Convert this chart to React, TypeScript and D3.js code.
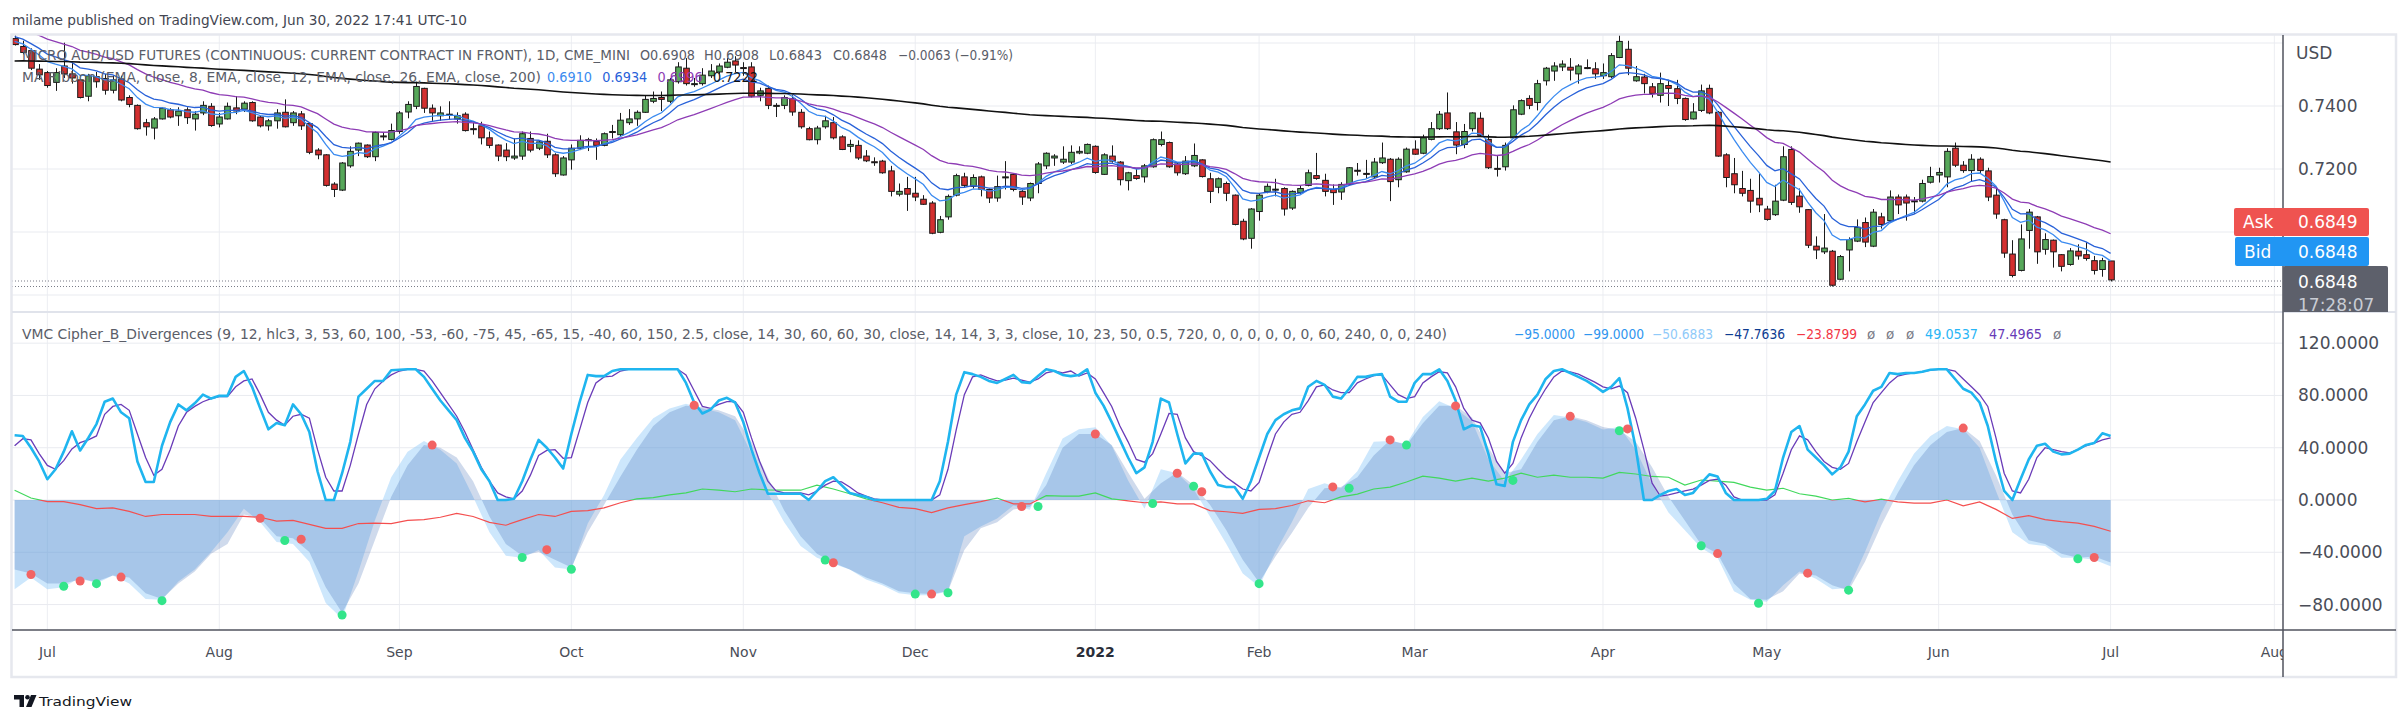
import * as d3 from 'd3';

// Daily bars, Jun 25 2021 .. Jul 1 2022: [open, high, low, close]
const bars: [number, number, number, number][] = [
    [0.7614, 0.7626, 0.7592, 0.7595], [0.7589, 0.7607, 0.7564, 0.7570], [0.7576, 0.7583, 0.7514, 0.7520], [0.7517, 0.7533, 0.7483, 0.7499],
    [0.7506, 0.7511, 0.7458, 0.7465], [0.7475, 0.7520, 0.7448, 0.7506], [0.7527, 0.7601, 0.7489, 0.7502], [0.7502, 0.7539, 0.7471, 0.7489],
    [0.7483, 0.7486, 0.7424, 0.7427], [0.7431, 0.7502, 0.7415, 0.7496], [0.7493, 0.7508, 0.7458, 0.7477], [0.7487, 0.7502, 0.7436, 0.7450],
    [0.7450, 0.7496, 0.7440, 0.7483], [0.7486, 0.7496, 0.7415, 0.7419], [0.7427, 0.7434, 0.7396, 0.7405], [0.7402, 0.7405, 0.7325, 0.7328],
    [0.7347, 0.7359, 0.7306, 0.7334], [0.7330, 0.7365, 0.7294, 0.7359], [0.7359, 0.7396, 0.7357, 0.7393], [0.7388, 0.7393, 0.7361, 0.7365],
    [0.7369, 0.7396, 0.7337, 0.7384], [0.7388, 0.7396, 0.7343, 0.7363], [0.7359, 0.7384, 0.7322, 0.7374], [0.7378, 0.7415, 0.7371, 0.7402],
    [0.7399, 0.7409, 0.7334, 0.7338], [0.7343, 0.7378, 0.7332, 0.7365], [0.7359, 0.7411, 0.7357, 0.7399], [0.7394, 0.7431, 0.7374, 0.7384],
    [0.7390, 0.7415, 0.7381, 0.7409], [0.7411, 0.7415, 0.7350, 0.7353], [0.7365, 0.7369, 0.7332, 0.7337], [0.7337, 0.7359, 0.7322, 0.7353],
    [0.7353, 0.7390, 0.7328, 0.7378], [0.7380, 0.7421, 0.7332, 0.7334], [0.7347, 0.7384, 0.7337, 0.7378], [0.7375, 0.7384, 0.7324, 0.7337],
    [0.7344, 0.7347, 0.7247, 0.7253], [0.7260, 0.7266, 0.7231, 0.7245], [0.7245, 0.7247, 0.7144, 0.7148], [0.7152, 0.7158, 0.7111, 0.7135],
    [0.7133, 0.7222, 0.7130, 0.7219], [0.7210, 0.7272, 0.7204, 0.7256], [0.7260, 0.7284, 0.7241, 0.7282], [0.7276, 0.7278, 0.7235, 0.7239],
    [0.7239, 0.7319, 0.7225, 0.7316], [0.7305, 0.7316, 0.7291, 0.7303], [0.7294, 0.7344, 0.7291, 0.7322], [0.7319, 0.7384, 0.7312, 0.7378],
    [0.7381, 0.7415, 0.7361, 0.7405], [0.7399, 0.7477, 0.7390, 0.7462], [0.7456, 0.7458, 0.7378, 0.7393], [0.7393, 0.7405, 0.7353, 0.7378],
    [0.7369, 0.7399, 0.7353, 0.7378], [0.7374, 0.7415, 0.7357, 0.7371], [0.7359, 0.7380, 0.7344, 0.7369], [0.7374, 0.7380, 0.7319, 0.7322],
    [0.7328, 0.7347, 0.7309, 0.7326], [0.7337, 0.7350, 0.7278, 0.7299], [0.7299, 0.7319, 0.7266, 0.7275], [0.7276, 0.7278, 0.7225, 0.7241],
    [0.7260, 0.7282, 0.7225, 0.7239], [0.7235, 0.7297, 0.7229, 0.7241], [0.7241, 0.7319, 0.7229, 0.7312], [0.7297, 0.7319, 0.7253, 0.7260],
    [0.7266, 0.7291, 0.7260, 0.7286], [0.7288, 0.7312, 0.7235, 0.7245], [0.7245, 0.7250, 0.7175, 0.7185], [0.7181, 0.7241, 0.7179, 0.7235],
    [0.7229, 0.7278, 0.7198, 0.7266], [0.7266, 0.7307, 0.7260, 0.7291], [0.7291, 0.7299, 0.7257, 0.7293], [0.7287, 0.7297, 0.7229, 0.7275],
    [0.7275, 0.7316, 0.7272, 0.7312], [0.7317, 0.7340, 0.7297, 0.7319], [0.7309, 0.7378, 0.7303, 0.7355], [0.7347, 0.7390, 0.7340, 0.7359],
    [0.7359, 0.7386, 0.7337, 0.7380], [0.7380, 0.7434, 0.7378, 0.7421], [0.7415, 0.7446, 0.7409, 0.7424], [0.7427, 0.7446, 0.7384, 0.7421],
    [0.7415, 0.7489, 0.7409, 0.7483], [0.7477, 0.7539, 0.7471, 0.7524], [0.7520, 0.7552, 0.7465, 0.7471], [0.7471, 0.7489, 0.7461, 0.7471],
    [0.7471, 0.7520, 0.7465, 0.7498], [0.7496, 0.7533, 0.7489, 0.7511], [0.7508, 0.7535, 0.7502, 0.7527], [0.7523, 0.7552, 0.7520, 0.7539],
    [0.7543, 0.7558, 0.7508, 0.7530], [0.7522, 0.7539, 0.7496, 0.7520], [0.7524, 0.7539, 0.7427, 0.7431], [0.7434, 0.7458, 0.7415, 0.7448],
    [0.7456, 0.7465, 0.7390, 0.7402], [0.7402, 0.7409, 0.7365, 0.7402], [0.7402, 0.7434, 0.7390, 0.7427], [0.7424, 0.7434, 0.7369, 0.7381],
    [0.7380, 0.7390, 0.7328, 0.7334], [0.7328, 0.7334, 0.7291, 0.7293], [0.7293, 0.7337, 0.7278, 0.7330], [0.7334, 0.7369, 0.7328, 0.7353],
    [0.7347, 0.7365, 0.7294, 0.7299], [0.7302, 0.7307, 0.7260, 0.7262], [0.7272, 0.7293, 0.7253, 0.7278], [0.7275, 0.7291, 0.7229, 0.7235],
    [0.7241, 0.7260, 0.7222, 0.7226], [0.7223, 0.7237, 0.7210, 0.7222], [0.7225, 0.7229, 0.7185, 0.7188], [0.7194, 0.7210, 0.7113, 0.7129],
    [0.7120, 0.7154, 0.7113, 0.7129], [0.7138, 0.7175, 0.7067, 0.7120], [0.7123, 0.7175, 0.7098, 0.7111], [0.7104, 0.7117, 0.7086, 0.7088],
    [0.7092, 0.7098, 0.6993, 0.6996], [0.6999, 0.7051, 0.6996, 0.7039], [0.7048, 0.7119, 0.7039, 0.7113], [0.7117, 0.7185, 0.7113, 0.7179],
    [0.7175, 0.7188, 0.7142, 0.7148], [0.7145, 0.7183, 0.7138, 0.7173], [0.7175, 0.7179, 0.7113, 0.7135], [0.7135, 0.7138, 0.7092, 0.7108],
    [0.7108, 0.7179, 0.7096, 0.7144], [0.7175, 0.7225, 0.7135, 0.7175], [0.7183, 0.7185, 0.7129, 0.7135], [0.7129, 0.7135, 0.7086, 0.7111],
    [0.7108, 0.7157, 0.7098, 0.7154], [0.7154, 0.7222, 0.7123, 0.7216], [0.7210, 0.7253, 0.7200, 0.7250], [0.7235, 0.7247, 0.7210, 0.7241],
    [0.7222, 0.7272, 0.7216, 0.7231], [0.7222, 0.7275, 0.7216, 0.7253], [0.7251, 0.7272, 0.7247, 0.7256], [0.7250, 0.7281, 0.7247, 0.7278],
    [0.7272, 0.7275, 0.7185, 0.7189], [0.7183, 0.7250, 0.7181, 0.7245], [0.7241, 0.7275, 0.7220, 0.7225], [0.7222, 0.7225, 0.7148, 0.7166],
    [0.7163, 0.7191, 0.7132, 0.7188], [0.7179, 0.7200, 0.7166, 0.7170], [0.7175, 0.7216, 0.7157, 0.7210], [0.7207, 0.7297, 0.7204, 0.7293],
    [0.7278, 0.7319, 0.7272, 0.7293], [0.7284, 0.7287, 0.7204, 0.7207], [0.7216, 0.7219, 0.7179, 0.7188], [0.7185, 0.7241, 0.7181, 0.7225],
    [0.7210, 0.7281, 0.7206, 0.7243], [0.7229, 0.7231, 0.7173, 0.7176], [0.7169, 0.7188, 0.7092, 0.7129], [0.7142, 0.7173, 0.7123, 0.7169],
    [0.7154, 0.7160, 0.7098, 0.7123], [0.7117, 0.7119, 0.7021, 0.7024], [0.7034, 0.7042, 0.6974, 0.6978], [0.6980, 0.7076, 0.6947, 0.7073],
    [0.7065, 0.7123, 0.7036, 0.7117], [0.7128, 0.7154, 0.7123, 0.7145], [0.7135, 0.7169, 0.7113, 0.7136], [0.7138, 0.7142, 0.7052, 0.7073],
    [0.7076, 0.7132, 0.7070, 0.7129], [0.7125, 0.7148, 0.7119, 0.7138], [0.7148, 0.7198, 0.7145, 0.7188], [0.7179, 0.7251, 0.7166, 0.7170],
    [0.7164, 0.7185, 0.7113, 0.7129], [0.7135, 0.7151, 0.7086, 0.7125], [0.7127, 0.7158, 0.7102, 0.7151], [0.7151, 0.7206, 0.7148, 0.7204],
    [0.7196, 0.7219, 0.7179, 0.7195], [0.7186, 0.7229, 0.7169, 0.7185], [0.7175, 0.7235, 0.7170, 0.7222], [0.7220, 0.7284, 0.7216, 0.7235],
    [0.7231, 0.7235, 0.7098, 0.7160], [0.7166, 0.7237, 0.7142, 0.7231], [0.7191, 0.7268, 0.7188, 0.7263], [0.7263, 0.7291, 0.7245, 0.7247],
    [0.7250, 0.7309, 0.7247, 0.7299], [0.7294, 0.7349, 0.7291, 0.7328], [0.7328, 0.7384, 0.7324, 0.7374], [0.7378, 0.7443, 0.7324, 0.7328],
    [0.7318, 0.7349, 0.7247, 0.7276], [0.7278, 0.7343, 0.7266, 0.7319], [0.7328, 0.7380, 0.7319, 0.7378], [0.7361, 0.7380, 0.7303, 0.7307],
    [0.7294, 0.7309, 0.7200, 0.7204], [0.7202, 0.7241, 0.7176, 0.7201], [0.7207, 0.7284, 0.7195, 0.7275], [0.7299, 0.7402, 0.7297, 0.7388],
    [0.7374, 0.7421, 0.7371, 0.7417], [0.7424, 0.7434, 0.7390, 0.7402], [0.7411, 0.7483, 0.7386, 0.7471], [0.7480, 0.7524, 0.7465, 0.7520],
    [0.7511, 0.7539, 0.7480, 0.7527], [0.7524, 0.7545, 0.7511, 0.7533], [0.7523, 0.7552, 0.7481, 0.7514], [0.7502, 0.7533, 0.7471, 0.7527],
    [0.7522, 0.7548, 0.7517, 0.7520], [0.7518, 0.7539, 0.7486, 0.7502], [0.7496, 0.7535, 0.7486, 0.7506], [0.7493, 0.7568, 0.7489, 0.7560],
    [0.7554, 0.7626, 0.7552, 0.7605], [0.7580, 0.7607, 0.7498, 0.7520], [0.7480, 0.7527, 0.7477, 0.7493], [0.7492, 0.7502, 0.7440, 0.7471],
    [0.7461, 0.7473, 0.7427, 0.7440], [0.7434, 0.7506, 0.7411, 0.7471], [0.7465, 0.7483, 0.7400, 0.7456], [0.7455, 0.7483, 0.7406, 0.7424],
    [0.7424, 0.7427, 0.7353, 0.7357], [0.7359, 0.7409, 0.7357, 0.7381], [0.7386, 0.7468, 0.7381, 0.7448], [0.7456, 0.7468, 0.7374, 0.7378],
    [0.7380, 0.7384, 0.7239, 0.7241], [0.7245, 0.7250, 0.7142, 0.7173], [0.7185, 0.7235, 0.7123, 0.7150], [0.7138, 0.7194, 0.7113, 0.7123],
    [0.7132, 0.7169, 0.7061, 0.7098], [0.7107, 0.7185, 0.7063, 0.7086], [0.7073, 0.7083, 0.7036, 0.7040], [0.7055, 0.7150, 0.7051, 0.7098],
    [0.7101, 0.7272, 0.7098, 0.7239], [0.7262, 0.7272, 0.7086, 0.7094], [0.7114, 0.7138, 0.7061, 0.7080], [0.7071, 0.7073, 0.6949, 0.6958],
    [0.6955, 0.6986, 0.6914, 0.6943], [0.6937, 0.7057, 0.6930, 0.6949], [0.6939, 0.6943, 0.6827, 0.6831], [0.6850, 0.6927, 0.6847, 0.6922],
    [0.6943, 0.6983, 0.6875, 0.6976], [0.6971, 0.7040, 0.6968, 0.7015], [0.7030, 0.7046, 0.6952, 0.6968], [0.6955, 0.7073, 0.6952, 0.7063],
    [0.7048, 0.7061, 0.7011, 0.7024], [0.7036, 0.7132, 0.7034, 0.7111], [0.7111, 0.7119, 0.7057, 0.7086], [0.7111, 0.7119, 0.7036, 0.7092],
    [0.7099, 0.7111, 0.7058, 0.7098], [0.7098, 0.7166, 0.7094, 0.7154], [0.7158, 0.7207, 0.7154, 0.7176], [0.7181, 0.7204, 0.7157, 0.7189],
    [0.7175, 0.7266, 0.7142, 0.7256], [0.7266, 0.7284, 0.7206, 0.7212], [0.7212, 0.7225, 0.7188, 0.7195], [0.7195, 0.7247, 0.7160, 0.7231],
    [0.7231, 0.7237, 0.7185, 0.7195], [0.7194, 0.7204, 0.7098, 0.7111], [0.7117, 0.7142, 0.7042, 0.7057], [0.7039, 0.7042, 0.6918, 0.6933],
    [0.6930, 0.6974, 0.6856, 0.6862], [0.6878, 0.7024, 0.6875, 0.6978], [0.7005, 0.7073, 0.6947, 0.7063], [0.7048, 0.7051, 0.6899, 0.6937],
    [0.6945, 0.6996, 0.6928, 0.6976], [0.6974, 0.6976, 0.6887, 0.6937], [0.6928, 0.6930, 0.6875, 0.6891], [0.6897, 0.6949, 0.6893, 0.6940],
    [0.6939, 0.6961, 0.6912, 0.6924], [0.6928, 0.6968, 0.6909, 0.6916], [0.6909, 0.6924, 0.6865, 0.6878], [0.6881, 0.6918, 0.6858, 0.6909],
    [0.6908, 0.6908, 0.6843, 0.6848],
];

// MA ribbon: periods, value on the first bar, colours, legend values
const emaPeriods = [8, 12, 26, 200];
const emaStart = [0.7605, 0.7620, 0.7649, 0.7543];
const emaColors = ['#3b8bf0', '#2962d9', '#8e3cb5', '#111111'];
const emaLegend = ['0.6910', '0.6934', '0.6996', '0.7222'];

// Stoch RSI K / D, one value per bar
const stochK = [
    49.6, 49.0, 40.0, 29.5, 15.9, 23.5, 37.0, 52.6, 37.9, 47.5, 58.1, 75.2, 77.6, 67.1, 62.6, 29.5, 13.8, 13.8, 41.5, 59.6,
    73.1, 68.6, 74.0, 80.6, 77.6, 79.7, 79.7, 94.2, 98.7, 86.6, 70.1, 54.1, 58.9, 57.2, 73.1, 65.6, 52.0, 22.0, 0, 0,
    20.5, 44.5, 79.1, 85.1, 91.1, 91.1, 99.3, 99.6, 100, 100, 94.2, 85.1, 76.1, 68.6, 61.1, 47.5, 37.0, 23.5, 14.4, 0,
    0, 0.9, 14.4, 31.0, 46.0,
    40.0, 32.5, 24.1, 50.5, 74.6, 95.7, 94.8, 94.8, 98.7, 100, 100, 100, 100, 100, 100, 100, 100,
    89.6, 74.6, 66.2, 69.2, 76.1, 78.2, 74.6, 59.6, 38.5, 20.5, 4.8, 4.8, 4.8, 4.8, 4.8, 0, 6.9, 14.4, 17.4, 11.4, 5.4, 3.9, 2.4,
    0, 0, 0, 0, 0, 0, 0, 0, 14.4, 44.5, 80.6, 97.8, 96.3, 94.2, 91.1, 89.6, 92.6, 95.7, 90.2, 89.6, 94.8, 100, 98.7, 95.7,
    94.8, 95.7, 100, 82.1, 72.2, 59.6, 46.0, 32.5, 20.5, 25.0, 44.5, 77.6, 74.6, 50.5, 28.0, 35.5, 35.5, 22.0, 11.4, 9.9,
    9.9, 0.9, 14.4, 32.5, 50.5, 61.1, 65.6, 68.6, 70.1, 86.6, 91.1, 88.1, 79.1, 77.6, 85.1, 94.2, 94.2, 95.7, 96.3, 79.1,
    75.2, 75.2, 89.6, 96.3, 96.3, 100, 91.1, 76.1, 54.1, 57.2, 56.0, 35.5, 12.0, 10.8, 44.5, 61.1, 73.1, 80.6, 92.6, 98.7,
    100, 97.2, 94.2, 91.1, 87.2,
    82.7, 86.6, 93.2, 70.1, 40.0, 0, 0, 3.9, 6.9, 8.4, 3.9, 5.4, 12.9, 19.6, 18.0, 5.4, 0, 0, 0, 0,
    0.9, 6.9, 32.5, 52.0, 56.6, 38.5, 32.5, 26.5, 19.6, 25.0, 37.0, 64.1, 73.1, 83.6, 86.6, 97.2, 96.3, 97.2, 97.2, 98.1,
    99.6, 100, 100, 92.6, 85.1, 82.1, 74.6, 56.6, 29.5, 6.9, 0, 15.9, 31.0, 41.5, 43.0, 37.0, 34.9, 35.5, 38.5, 42.1,
    43.6, 51.1, 49.05,
];
const stochD = [
    41.5, 46.9, 46.0, 35.5, 26.5, 23.5, 30.1, 39.1, 43.9, 46.0, 49.0, 65.6, 71.6, 73.1, 68.6, 50.5, 32.5, 19.0, 23.5, 38.5,
    56.6, 67.1, 71.6, 75.2, 77.6, 79.1, 79.1, 86.6, 91.1, 92.6, 80.6, 67.1, 61.1, 57.2, 64.1, 65.6, 62.6, 38.5, 17.4, 6.9,
    6.9, 26.5, 50.5, 73.1, 85.1, 91.1, 95.7, 98.7, 100, 100, 98.7, 91.1, 82.1, 73.1, 64.1, 52.0, 38.5, 25.0, 14.4, 5.4,
    2.4, 0.9, 6.9, 19.0, 34.0,
    37.9, 38.5, 31.9, 32.5, 53.5, 74.6, 89.6, 94.2, 94.8, 98.7, 100, 100, 100, 100, 100, 100, 100,
    95.7, 83.6, 71.6, 70.1, 73.1, 75.2, 75.2, 67.1, 47.5, 29.5, 14.4, 6.9, 5.4, 5.4, 5.4, 3.9, 6.9, 11.4, 14.4, 13.8, 9.9, 5.4, 3.0, 0.9,
    0, 0, 0, 0, 0, 0, 0, 3.9, 23.5, 53.5, 80.6, 94.2, 95.7, 93.2, 91.1, 91.7, 93.2, 91.7, 90.2, 92.6, 97.2, 98.7, 97.2,
    98.7, 94.8, 97.2, 92.6, 82.1, 71.6, 56.6, 44.5, 31.0, 28.9, 35.5, 50.5, 66.2, 65.6, 47.5, 37.0, 34.0, 30.1, 23.5, 17.4,
    12.9, 8.4, 6.9, 13.5, 32.5, 50.5, 59.6, 65.6, 67.1, 76.1, 86.6, 88.1, 84.2, 82.1, 82.1, 89.6, 92.6, 95.1, 95.7, 88.1,
    80.6, 77.6, 79.1, 89.6, 94.2, 98.1, 97.2, 86.6, 70.1, 61.1, 59.0, 47.5, 29.5, 20.5, 28.0, 47.5, 62.6, 74.6, 85.1, 94.2,
    98.7, 98.1, 96.3, 93.2, 90.2,
    86.6, 85.1, 87.2, 82.1, 62.6, 38.5, 12.9, 3.0, 3.9, 5.4, 6.9, 8.4, 11.4, 15.0, 15.9, 11.4, 2.4, 0, 0, 0,
    0, 3.9, 20.5, 38.5, 49.0, 46.0, 37.0, 29.5, 25.0, 23.5, 28.0, 44.5, 59.6, 74.6, 82.1, 89.6, 94.8, 96.3, 97.2, 98.1,
    99.3, 100, 100, 98.7, 92.6, 86.6, 80.6, 71.6, 47.5, 20.5, 6.9, 5.4, 15.9, 32.5, 40.0, 38.5, 37.0, 36.1, 38.5, 41.5,
    43.6, 46.0, 47.5,
];

// WaveTrend 1 / 2 and RSI+MFI, sampled every second bar
const sampleStep = 2;
const wt1 = [
    -68.3, -59.3, -68.3, -66.8, -59.3, -63.8, -57.8, -63.8, -75.8, -76.4, -62.3, -53.2, -39.7, -24.7, -6.6, -17.1, -32.2,
    -33.7, -47.2, -78.8, -90.8, -54.7, -15.6, 17.4, 37.0, 45.1, 38.5, 28.0, 2.4, -24.7, -42.7, -44.2, -38.2,
    -51.7, -53.2, -18.0, 3.9, 31.0, 47.5, 62.6, 70.1, 73.7, 70.1, 67.1, 61.1, 35.5, 5.4, -17.1, -35.2,
    -44.2, -48.7, -53.2, -60.8, -65.3, -71.3, -72.8, -72.8, -69.8, -27.7, -20.2, -14.1, -4.2, -7.5, 20.5, 47.0,
    54.1, 55.6, 41.5, 15.0, -6.6, 23.5, 20.5, 8.4, -12.6, -33.7, -56.2, -66.2, -39.7, -17.1, 8.4, 12.9, 9.0,
    22.0, 44.5, 45.1, 43.0, 63.5, 75.5, 70.1, 60.2, 31.0, 14.4, 31.0, 50.5, 65.0, 63.2, 59.6, 54.0,
    55.9, 38.5, 12.0, -9.6, -23.2, -36.7, -44.2, -69.8, -76.4, -77.9, -65.3, -54.7, -60.2, -68.3, -67.4, -39.7,
    -9.6, 14.4, 35.5, 49.0, 56.6, 54.1, 40.0, 6.9, -24.7, -33.7, -35.2, -44.2, -44.2, -45.7, -50.69,
];
const wt2 = [
    -53.2, -56.2, -63.8, -63.8, -60.8, -62.3, -57.8, -59.3, -71.3, -75.8, -63.8, -54.7, -41.2, -33.7, -11.1, -14.1, -27.7,
    -29.2, -39.7, -66.8, -86.3, -63.8, -30.7, 2.4, 26.5, 42.1, 40.0, 32.5, 14.4, -12.6, -33.7, -42.7, -39.7,
    -45.7, -51.7, -24.7, -3.6, 18.0, 38.5, 56.6, 67.1, 72.2, 71.0, 68.6, 64.1, 44.5, 17.4, -8.1, -27.7,
    -41.2, -48.1, -53.2, -59.3, -63.8, -69.8, -71.3, -71.9, -69.8, -38.2, -21.7, -17.1, -7.2, -5.4, 11.4, 40.0,
    50.5, 50.5, 42.1, 21.1, 0.9, 12.9, 21.1, 11.4, -3.6, -23.2, -45.7, -63.2, -43.3, -25.3, -6.0, 9.0, 9.9,
    17.4, 34.0, 46.0, 42.1, 58.7, 72.2, 72.2, 63.2, 40.0, 20.5, 23.5, 44.5, 61.1, 64.1, 61.1, 55.8,
    53.5, 44.5, 25.0, 2.4, -15.6, -34.3, -41.2, -63.8, -75.8, -76.4, -69.8, -56.2, -57.8, -65.3, -69.2, -47.2,
    -19.3, 5.4, 26.5, 42.1, 52.0, 55.0, 45.1, 19.0, -11.1, -30.7, -33.7, -41.2, -44.2, -43.3, -47.76,
];
const rsiMfi = [
    7.5, 1.5, -1.2, -1.2, -3.6, -6.6, -6.0, -8.7, -12.6, -11.1, -11.1, -11.1, -12.6, -12.6, -12.6, -13.2, -16.2,
    -15.6, -18.6, -21.7, -21.7, -18.0, -17.7, -18.0, -15.6, -15.0, -13.2, -10.2, -12.6, -17.1, -19.3, -15.0, -11.1,
    -12.6, -8.7, -8.1, -6.0, -2.1, 0.9, 1.8, 3.9, 5.4, 8.4, 7.5, 6.3, 8.4, 7.8, 7.5, 7.5,
    11.4, 8.4, 4.8, 0.9, -2.1, -5.7, -6.6, -9.6, -6.0, -3.6, -1.2, 1.5, -3.0, -3.0, 3.3, 3.0,
    3.0, 5.4, 0.9, -0.6, -2.1, -1.5, -3.0, -3.0, -8.1, -9.0, -10.2, -7.2, -6.6, -4.2, -0.6, -2.1, 2.4,
    4.5, 8.4, 9.9, 13.8, 18.3, 16.8, 14.4, 16.8, 14.4, 16.8, 20.5, 17.4, 19.0, 17.4, 17.4, 16.8,
    21.1, 19.9, 18.0, 17.4, 11.4, 15.3, 14.4, 13.5, 9.9, 7.5, 9.0, 4.8, 3.0, 0, 1.2, -1.5,
    0.6, -1.5, -2.4, -2.4, 0, -4.5, -1.5, -7.2, -14.1, -12.0, -15.0, -16.5, -17.7, -20.2, -23.88,
];

// indicator legend values as printed on the chart
const indLegend = ['\u221295.0000', '\u221299.0000', '\u221250.6883', '\u221247.7636', '\u221223.8799', 'ø', 'ø', 'ø', '49.0537', '47.4965', 'ø'];
const indLegendX = [1514, 1583, 1652, 1724, 1796, 1867, 1886, 1906, 1925, 1989, 2053];
const indLegendColors = ['#2f96ef', '#2f96ef', '#90caf9', '#0d3c91', '#f23645', '#787b86', '#787b86', '#787b86', '#29b6f6', '#673ab7', '#787b86'];

// WaveTrend cross dots
const dotBars = [2, 6, 8, 10, 13, 18, 30, 33, 35, 40, 51, 62, 65, 68, 83, 99, 100, 110, 112, 114, 123, 125, 132, 139, 142,
    144, 145, 152, 161, 163, 168, 170, 176, 183, 190, 196, 197, 206, 208, 213, 219, 224, 238, 252, 254];
const dotValues = [-57, -66, -62, -64, -59, -77, -14, -31, -30, -88, 42, -44, -38, -53, 72.5, -46, -48, -72, -72, -71, -5, -5,
    50.5, -2.7, 20.5, 10.5, 6.3, -64, 10, 9, 46, 42, 72, 15, 64, 53, 54.4, -35, -41, -79, -56, -69, 55, -45, -44];
const dotKinds = 'rgrgrgrgrgrgrgrgrgrgrgrgrgrgrgrgrgrgrgrgrgrgr'.split('');

// time axis: first bar of each month
const tickBars = [4, 25, 47, 68, 89, 110, 132, 152, 171, 194, 214, 235, 256, 276];
const tickLabels = ['Jul', 'Aug', 'Sep', 'Oct', 'Nov', 'Dec', '2022', 'Feb', 'Mar', 'Apr', 'May', 'Jun', 'Jul', 'Aug'];
const priceGrid = [0.76, 0.74, 0.72, 0.70, 0.68];
const priceLabels = [0.74, 0.72];
const indTicks = [120, 80, 40, 0, -40, -80];

const FONT = "'DejaVu Sans', Verdana, sans-serif";
const paneL = 12, axisX = 2283, frameR = 2396;
const mainTop = 35, mainBot = 312, indBot = 630, frameBot = 677;

function ema(values: number[], period: number, start: number) {
    const a = 2 / (period + 1);
    let e = start;
    return values.map((v, i) => (i === 0 ? e : (e = e + a * (v - e))));
}

const fmtInd = (v: number) => (v < 0 ? '\u2212' : '') + Math.abs(v).toFixed(4);

export default function App() {
    const x = d3.scaleLinear().domain([0, 256]).range([14.6, 2110.6]);
    const yP = d3.scaleLinear().domain([0.68, 0.74]).range([295, 106]);
    const yI = d3.scaleLinear().domain([0, 40]).range([500, 447.72]);
    const bodyW = 5.6;

    const closes = bars.map(b => b[3]);
    const emas = emaPeriods.map((p, k) => ema(closes, p, emaStart[k]));
    const priceLine = d3.line<number>().x((_, i) => x(i)).y(d => yP(d));
    const barLine = d3.line<number>().x((_, i) => x(i)).y(d => yI(d));
    const sampledLine = d3.line<number>().x((_, i) => x(i * sampleStep)).y(d => yI(d));
    const sampledArea = d3.area<number>().x((_, i) => x(i * sampleStep)).y0(yI(0)).y1(d => yI(d));

    const legendGray = '#5a5d68';
    const axisText = '#4a4d57';

    return (
        <svg width={2408} height={720} style={{ position: 'absolute', left: 0, top: 0, background: '#fff' }}
            fontFamily={FONT}>
            <defs>
                <clipPath id="mainClip"><rect x={paneL} y={mainTop} width={axisX - paneL} height={mainBot - mainTop} /></clipPath>
                <clipPath id="indClip"><rect x={paneL} y={mainBot + 1} width={axisX - paneL} height={indBot - mainBot - 1} /></clipPath>
                <clipPath id="aboveZero"><rect x={0} y={0} width={2408} height={yI(0)} /></clipPath>
                <clipPath id="belowZero"><rect x={0} y={yI(0)} width={2408} height={720} /></clipPath>
                <clipPath id="timeClip"><rect x={paneL} y={indBot} width={axisX - paneL} height={frameBot - indBot} /></clipPath>
                <clipPath id="lastClip"><rect x={axisX} y={mainTop} width={frameR - axisX} height={mainBot - mainTop} /></clipPath>
            </defs>

            <text x={12} y={25} fontSize={14.5} fill="#434651" textLength={455} lengthAdjust="spacingAndGlyphs">
                milame published on TradingView.com, Jun 30, 2022 17:41 UTC-10
            </text>

            {/* grid */}
            {tickBars.map((b, i) => (
                <line key={'vg' + i} x1={x(b)} x2={x(b)} y1={mainTop} y2={indBot} stroke="#eceef2" strokeWidth={1} />
            ))}
            {priceGrid.map(p => (
                <line key={'pg' + p} x1={paneL} x2={axisX} y1={yP(p)} y2={yP(p)} stroke="#e9ebf0" strokeWidth={1} />
            ))}
            {indTicks.map(t => (
                <line key={'ig' + t} x1={paneL} x2={axisX} y1={yI(t)} y2={yI(t)} stroke="#e9ebf0" strokeWidth={1} />
            ))}

            {/* price pane */}
            <g clipPath="url(#mainClip)">
                <line x1={paneL} x2={axisX} y1={281} y2={281} stroke="#787b86" strokeDasharray="1 2" />
                <line x1={paneL} x2={axisX} y1={286.5} y2={286.5} stroke="#787b86" strokeDasharray="1 2" />
                {bars.map((b, i) => {
                    const [o, h, l, c] = b;
                    const cx = Math.round(x(i)) + 0.5;
                    const top = yP(Math.max(o, c));
                    const hgt = Math.max(1, Math.abs(yP(o) - yP(c)));
                    return (
                        <g key={'c' + i}>
                            <line x1={cx} x2={cx} y1={yP(h)} y2={yP(l)} stroke="#1a1a1a" strokeWidth={1} />
                            <rect x={cx - bodyW / 2} y={top} width={bodyW} height={hgt}
                                fill={c >= o ? '#57a85a' : '#d32f2f'} stroke="#1a1a1a" strokeWidth={1} />
                        </g>
                    );
                })}
                {emas.map((e, k) => (
                    <path key={'ema' + k} d={priceLine(e) || ''} fill="none" stroke={emaColors[k]}
                        strokeWidth={k === 3 ? 1.6 : 1.3} />
                ))}
            </g>

            {/* price legend */}
            <g fontSize={13.5} fill={legendGray}>
                <text x={22} y={60} textLength={608} lengthAdjust="spacingAndGlyphs">
                    MICRO AUD/USD FUTURES (CONTINUOUS: CURRENT CONTRACT IN FRONT), 1D, CME_MINI
                </text>
                <text x={640} y={60} textLength={55} lengthAdjust="spacingAndGlyphs">O0.6908</text>
                <text x={704} y={60} textLength={55} lengthAdjust="spacingAndGlyphs">H0.6908</text>
                <text x={769} y={60} textLength={53} lengthAdjust="spacingAndGlyphs">L0.6843</text>
                <text x={833} y={60} textLength={54} lengthAdjust="spacingAndGlyphs">C0.6848</text>
                <text x={898} y={60} textLength={115} lengthAdjust="spacingAndGlyphs">{'\u22120.0063 (\u22120.91%)'}</text>
                <text x={22} y={82} textLength={519} lengthAdjust="spacingAndGlyphs">
                    MA Ribbon (EMA, close, 8, EMA, close, 12, EMA, close, 26, EMA, close, 200)
                </text>
                {emaLegend.map((s, k) => (
                    <text key={'ev' + k} x={547 + k * 55.3} y={82} fill={emaColors[k]} textLength={45}
                        lengthAdjust="spacingAndGlyphs">{s}</text>
                ))}
            </g>

            {/* indicator pane */}
            <g clipPath="url(#indClip)">
                <path d={sampledArea(wt1) || ''} fill="#90caf9" fillOpacity={0.45} />
                <path d={sampledArea(wt2) || ''} fill="#0d47a1" fillOpacity={0.2} />
                <path d={sampledLine(rsiMfi) || ''} fill="none" stroke="#41d85c" strokeWidth={1.2} clipPath="url(#aboveZero)" />
                <path d={sampledLine(rsiMfi) || ''} fill="none" stroke="#f44f4f" strokeWidth={1.2} clipPath="url(#belowZero)" />
                <path d={barLine(stochD) || ''} fill="none" stroke="#6a3cb8" strokeWidth={1.3} />
                <path d={barLine(stochK) || ''} fill="none" stroke="#1fb5ef" strokeWidth={2.6} strokeLinejoin="round" />
                {dotBars.map((b, i) => (
                    <circle key={'d' + i} cx={x(b)} cy={yI(dotValues[i])} r={4.5}
                        fill={dotKinds[i] === 'g' ? '#33e58a' : '#f26363'} />
                ))}
            </g>

            <g fontSize={13.5}>
                <text x={22} y={339} fill={legendGray} textLength={1425} lengthAdjust="spacingAndGlyphs">
                    VMC Cipher_B_Divergences (9, 12, hlc3, 3, 53, 60, 100, -53, -60, -75, 45, -65, 15, -40, 60, 150, 2.5, close, 14, 30, 60, 60, 30, close, 14, 14, 3, 3, close, 10, 23, 50, 0.5, 720, 0, 0, 0, 0, 0, 0, 60, 240, 0, 0, 240)
                </text>
                {indLegend.map((s, k) => (
                    <text key={'lv' + k} x={indLegendX[k]} y={339} fill={indLegendColors[k]}
                        textLength={s === 'ø' ? undefined : (s.length > 7 ? 61 : 53)}
                        lengthAdjust="spacingAndGlyphs">{s}</text>
                ))}
            </g>

            {/* frame and separators */}
            <rect x={11.5} y={34.5} width={frameR - 11.5} height={frameBot - 34.5} fill="none" stroke="#e6e8ee" strokeWidth={2.5} />
            <line x1={paneL} x2={frameR} y1={mainBot} y2={mainBot} stroke="#e0e3eb" strokeWidth={2} />
            <line x1={paneL} x2={frameR} y1={indBot} y2={indBot} stroke="#50535e" strokeWidth={1.5} />
            <line x1={axisX} x2={axisX} y1={mainTop} y2={frameBot} stroke="#50535e" strokeWidth={1.5} />

            {/* price axis */}
            <g fontSize={17} fill={axisText}>
                <text x={2296} y={59}>USD</text>
                {priceLabels.map(p => (
                    <text key={'pl' + p} x={2298} y={yP(p) + 6}>{p.toFixed(4)}</text>
                ))}
                {indTicks.map(t => (
                    <text key={'il' + t} x={2298} y={yI(t) + 6}>{fmtInd(t)}</text>
                ))}
            </g>

            {/* bid / ask / last */}
            <g fontSize={17} fill="#ffffff">
                <rect x={2234} y={208} width={135} height={28} rx={2} fill="#ef5350" />
                <text x={2243} y={228}>Ask</text>
                <text x={2298} y={228}>0.6849</text>
                <rect x={2235} y={237} width={134} height={29} rx={2} fill="#2196f3" />
                <text x={2244} y={257.5}>Bid</text>
                <text x={2298} y={257.5}>{closes[closes.length - 1].toFixed(4)}</text>
                <g clipPath="url(#lastClip)">
                    <rect x={axisX} y={266} width={105} height={50} rx={2} fill="#5d606b" />
                    <text x={2298} y={288}>{closes[closes.length - 1].toFixed(4)}</text>
                    <text x={2298} y={311} fill="#c9ccd4">17:28:07</text>
                </g>
            </g>

            {/* time axis */}
            <g clipPath="url(#timeClip)" fontSize={14} fill={axisText} textAnchor="middle">
                {tickBars.map((b, i) => (
                    <text key={'tl' + i} x={x(b)} y={657} fontWeight={tickLabels[i] === '2022' ? 'bold' : 'normal'}
                        fill={tickLabels[i] === '2022' ? '#2a2e39' : axisText}>{tickLabels[i]}</text>
                ))}
            </g>

            {/* TradingView mark */}
            <g fill="#131722">
                <path d="M14 695 h10 v12 h-4.5 v-7.5 h-5.5 z" />
                <circle cx={27.5} cy={697.3} r={2.3} />
                <path d="M31 695 h5.5 l-5 12 h-5.5 z" />
            </g>
            <text x={39} y={705.5} fontSize={13} fill="#131722" textLength={93} lengthAdjust="spacingAndGlyphs">TradingView</text>
        </svg>
    );
}
